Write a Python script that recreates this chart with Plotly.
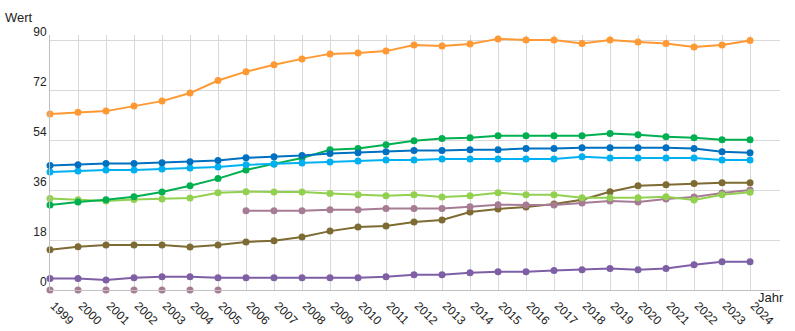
import plotly.graph_objects as go

years = list(range(1999, 2025))

orange = [63.4, 64.0, 64.4, 66.2, 68.0, 70.9, 75.4, 78.6, 81.1, 83.2, 85.0, 85.3, 86.0, 88.2, 87.8, 88.6, 90.4, 90.0, 90.0, 88.7, 90.0, 89.3, 88.7, 87.5, 88.2, 89.8]
dark_blue = [44.8, 45.1, 45.5, 45.5, 45.8, 46.2, 46.6, 47.6, 48.0, 48.4, 49.1, 49.4, 49.8, 50.2, 50.2, 50.5, 50.5, 50.9, 50.9, 51.2, 51.2, 51.2, 51.2, 50.9, 49.8, 49.4]
light_blue = [42.5, 42.8, 43.2, 43.2, 43.6, 43.9, 44.3, 45.1, 45.4, 45.7, 46.1, 46.4, 46.8, 46.8, 47.2, 47.2, 47.2, 47.2, 47.2, 48.0, 47.5, 47.5, 47.5, 47.5, 46.8, 46.8]
green = [30.6, 31.7, 32.5, 33.6, 35.3, 37.5, 40.1, 43.2, 45.4, 47.5, 50.5, 50.9, 52.3, 53.7, 54.5, 54.8, 55.5, 55.5, 55.5, 55.5, 56.3, 55.9, 55.2, 54.8, 54.1, 54.1]
light_green = [32.9, 32.5, 32.0, 32.6, 32.8, 33.1, 35.0, 35.4, 35.3, 35.3, 34.7, 34.3, 33.9, 34.3, 33.5, 33.9, 35.0, 34.3, 34.3, 33.2, 33.2, 33.2, 33.6, 32.4, 34.3, 35.2]
mauve_early_years = list(range(1999, 2006))
mauve_early = [0, 0, 0, 0, 0, 0, 0]
mauve_years = list(range(2006, 2025))
mauve = [28.5, 28.5, 28.5, 28.9, 28.9, 29.3, 29.3, 29.3, 30.0, 30.7, 30.6, 30.6, 31.3, 32.0, 31.7, 32.8, 33.5, 34.9, 36.0]
olive = [14.5, 15.6, 16.2, 16.2, 16.2, 15.5, 16.2, 17.3, 17.7, 19.1, 21.2, 22.7, 23.0, 24.5, 25.2, 28.1, 29.2, 29.9, 31.0, 32.5, 35.4, 37.5, 37.9, 38.3, 38.6, 38.6]
purple = [4.1, 4.1, 3.6, 4.4, 4.8, 4.8, 4.4, 4.4, 4.4, 4.4, 4.4, 4.4, 4.8, 5.5, 5.5, 6.2, 6.6, 6.6, 7.0, 7.3, 7.7, 7.3, 7.7, 9.1, 10.2, 10.2]

y_ticks = [0, 18, 36, 54, 72, 90]

series = [
    (years, purple, "#7E5FA6"),
    (years, olive, "#7D6B33"),
    (mauve_years, mauve, "#A67C94"),
    (years, light_green, "#92D050"),
    (years, green, "#00B050"),
    (years, light_blue, "#00B0F0"),
    (years, dark_blue, "#0070C0"),
    (years, orange, "#FF9933"),
]

fig = go.Figure()
fig.add_trace(go.Scatter(x=mauve_early_years, y=mauve_early, mode="markers",
                         marker=dict(color="#A67C94", size=7), cliponaxis=False,
                         showlegend=False))
for xs, ys, col in series:
    fig.add_trace(go.Scatter(x=xs, y=ys, mode="lines+markers",
                             line=dict(color=col, width=2),
                             marker=dict(color=col, size=7),
                             cliponaxis=False, showlegend=False))

fig.update_layout(
    width=795, height=331,
    margin=dict(l=50, r=15, t=35, b=41, autoexpand=False),
    paper_bgcolor="white", plot_bgcolor="white",
    font=dict(family="Liberation Sans, Arial, sans-serif", size=12, color="#222222"),
    xaxis=dict(range=[1999, 2025.07], tickmode="array", tickvals=years,
               ticktext=[str(y) for y in years], tickangle=45, automargin=False,
               showgrid=True, gridcolor="#d9d9d9", gridwidth=1,
               showline=True, linecolor="#bfbfbf", linewidth=1,
               zeroline=False, ticks="", ticklabelstandoff=3, ticklabelshift=4,
               tickfont=dict(size=12, color="#222222")),
    yaxis=dict(range=[0, 91.8], tickmode="array", tickvals=y_ticks,
               ticktext=[str(v) for v in y_ticks], automargin=False,
               showgrid=True, gridcolor="#d9d9d9", gridwidth=1,
               showline=True, linecolor="#bfbfbf", linewidth=1,
               zeroline=False, ticks="", ticklabelposition="outside top",
               tickfont=dict(size=12, color="#222222")),
    annotations=[
        dict(text="Wert", xref="paper", yref="paper", x=-50/730, y=1 + 35/255,
             xanchor="left", yanchor="top", xshift=3, yshift=-8, showarrow=False,
             font=dict(size=13, color="#222222")),
        dict(text="Jahr", xref="paper", yref="paper", x=1, y=0,
             xanchor="right", yanchor="top", xshift=6, yshift=2, showarrow=False,
             font=dict(size=13, color="#222222")),
    ],
)

fig.write_html("out.html")
